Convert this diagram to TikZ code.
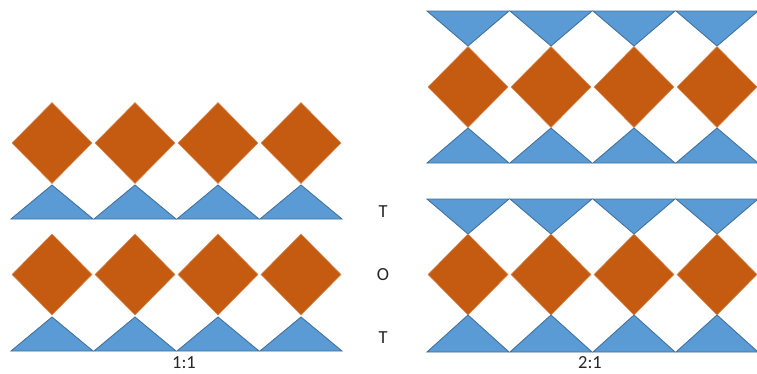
\documentclass[tikz,border=0pt]{standalone}
\usepackage{fontspec}
\setmainfont{Carlito}
\usepackage{tikz}
\definecolor{tileOrange}{HTML}{C55A11}
\definecolor{tileBlue}{HTML}{5B9BD5}
\definecolor{tileBlueEdge}{HTML}{41719C}
\definecolor{labelGray}{HTML}{262626}
\tikzset{
    tile diamond/.style={
        fill=tileOrange,
        draw=tileOrange!70!white,
        line width=0.3pt
    },
    tile triangle/.style={
        fill=tileBlue,
        draw=tileBlueEdge,
        line width=0.5pt,
        line join=miter
    },
    layer label/.style={
        font=\fontsize{10.5}{12}\selectfont,
        text=labelGray,
        inner sep=1pt
    }
}

\begin{document}
\begin{tikzpicture}[x=0.02cm, y=-0.02cm]
            % Help lines :
            % \draw [help lines] (0,0) grid[step=50] (757,373);
            \useasboundingbox (0,0) rectangle (757,373);

            % Left panel (1:1) : two rows of diamonds on triangles
            \foreach \cy/\ty/\by in {143/185/219, 274.5/317/351} {
                \foreach \cx in {52,135,218,301} {
                    \path [tile diamond]
                        (\cx-40,\cy) -- (\cx,\cy-40.5) -- (\cx+40,\cy) -- (\cx,\cy+40.5) -- cycle;
                    \path [tile triangle]
                        (\cx-41,\by) -- (\cx,\ty) -- (\cx+41,\by) -- cycle;
                }
            }

            % Right panel (2:1) : triangles above and below the diamonds
            \foreach \topy/\tapex/\cy/\bapex/\by in {11/46/87/128/163, 199/234/274.5/315/352} {
                \foreach \cx in {468,551,634,717} {
                    \path [tile triangle]
                        (\cx-41,\topy) -- (\cx+41,\topy) -- (\cx,\tapex) -- cycle;
                    \path [tile diamond]
                        (\cx-40,\cy) -- (\cx,\cy-40.5) -- (\cx+40,\cy) -- (\cx,\cy+40.5) -- cycle;
                    \path [tile triangle]
                        (\cx-41,\by) -- (\cx,\bapex) -- (\cx+41,\by) -- cycle;
                }
            }

            % Labels
            \node (layerT1) [layer label] at (383,212) {T};
            \node (layerO) [layer label] at (383,275) {O};
            \node (layerT2) [layer label] at (383,338) {T};
            \node (ratioA) [layer label] at (184,363) {1:1};
            \node (ratioB) [layer label] at (590,363) {2:1};
\end{tikzpicture}
\end{document}
